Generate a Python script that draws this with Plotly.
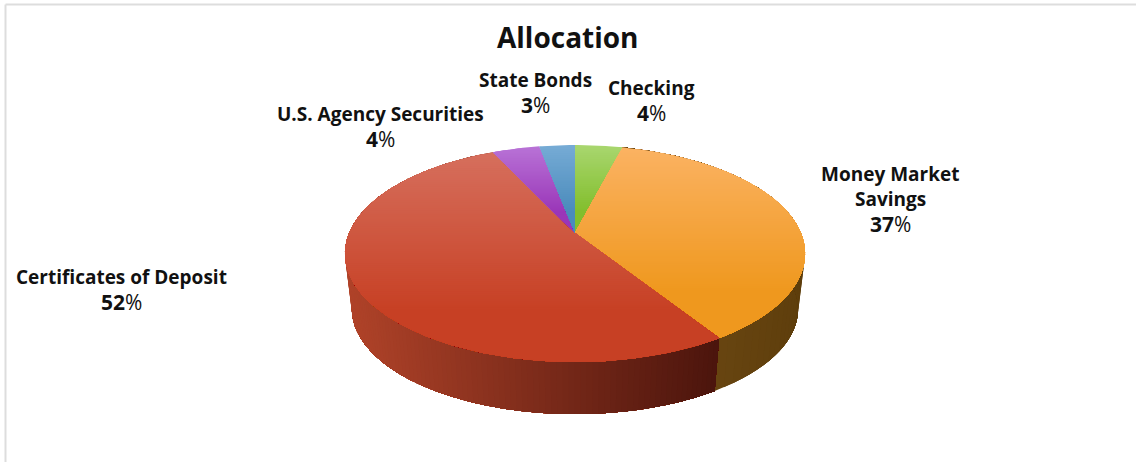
import numpy as np
import plotly.graph_objects as go

# Portfolio allocation, clockwise from twelve o'clock
categories = [["Checking"], ["Money Market", "Savings"], ["Certificates of Deposit"],
              ["U.S. Agency Securities"], ["State Bonds"]]
shares = [4, 37, 52, 4, 3]

# Colour ramps: lit rim of the slice top -> saturated lower part, then wall colours
top_light = ["#A8D66E", "#FBB262", "#D66F5D", "#B872D6", "#76ABD5"]
top_deep = ["#82BE2C", "#EF981E", "#C74024", "#9A36B8", "#4A8BBB"]
wall_left = ["#5A7A1C", "#674410", "#B04329", "#6A2080", "#2C5A7C"]
wall_right = ["#4A6A14", "#5E3E0C", "#4A140C", "#5A1A70", "#24506C"]

# Centre of each label's first line, and the distance between its lines
label_pos = [(651, 88), (890, 174), (121, 277), (380, 114), (535, 80)]
LINE_STEP = 25

# Perspective disc: screen position of the pie apex and its foreshortening
CX, CY = 575.0, 233.0
TILT = 0.189
RX, RY = 225.9, 104.6
LOWER_SCALE = 0.97
LOWER_CY = 289.0


def project(theta, lower=False):
    """Map an angle clockwise from the top of the disc onto the screen."""
    px = np.sin(theta)
    py = np.cos(theta)
    w = 1 + TILT * py
    sx = RX * px / w
    sy = -RY * py / w
    if lower:
        return CX + LOWER_SCALE * sx, LOWER_CY + LOWER_SCALE * sy
    return CX + sx, CY + sy


def rgb(hex_colour):
    return np.array([int(hex_colour[i:i + 2], 16) for i in (1, 3, 5)], float)


def mix(a, b, t):
    c = rgb(a) * (1 - t) + rgb(b) * t
    return "rgb({:.0f},{:.0f},{:.0f})".format(*c)


def clip_below(xs, ys, limit):
    """Keep the part of a polygon lying at or below the screen height `limit`."""
    pts = list(zip(xs, ys))
    out = []
    for i, (xa, ya) in enumerate(pts):
        xb, yb = pts[(i + 1) % len(pts)]
        ina, inb = ya >= limit, yb >= limit
        if ina:
            out.append((xa, ya))
        if ina != inb:
            t = (limit - ya) / (yb - ya)
            out.append((xa + t * (xb - xa), limit))
    return out


def patch(xs, ys, colour):
    return go.Scatter(x=list(xs), y=list(ys), mode="lines", fill="toself",
                      fillcolor=colour, line=dict(width=0),
                      hoverinfo="skip", showlegend=False)


fig = go.Figure()

edges = np.concatenate([[0], np.cumsum(shares)]) / sum(shares) * 2 * np.pi

# Outer wall: overlapping sweeps from the start of the slice to each step,
# shortest last, so the shading runs without seams
for i, stride in ((1, 6), (2, 2)):
    full = np.linspace(edges[i], edges[i + 1], 301)
    x_from, x_to = (722, 805) if i == 1 else (345, 722)
    for k in range(300, 0, -stride):
        arc = full[:k + 1]
        tx, ty = project(arc)
        bx, by = project(arc[::-1], lower=True)
        xs = np.concatenate([tx, bx, tx[:1]])
        ys = np.concatenate([ty, by, ty[:1]])
        t = np.clip((tx[-1] - x_from) / (x_to - x_from), 0, 1)
        fig.add_trace(patch(xs, ys, mix(wall_left[i], wall_right[i], t)))

# Slice tops: each slice carries its own vertical gradient, painted downward
for i in range(len(shares)):
    arc = np.linspace(edges[i], edges[i + 1], int((edges[i + 1] - edges[i]) * 60) + 3)
    ax, ay = project(arc)
    xs = np.concatenate([[CX], ax])
    ys = np.concatenate([[CY], ay])
    y_min, y_max = ys.min(), ys.max()
    steps = max(16, int((y_max - y_min) / 2))
    for y0 in np.linspace(y_min, y_max, steps + 1)[:-1]:
        band = clip_below(xs, ys, y0)
        if len(band) < 3:
            continue
        t = min(1.0, (y0 - y_min) / (0.75 * (y_max - y_min)))
        bx = [p[0] for p in band] + [band[0][0]]
        by = [p[1] for p in band] + [band[0][1]]
        fig.add_trace(patch(bx, by, mix(top_light[i], top_deep[i], t)))

FONT = "'Open Sans', Lato, sans-serif"
INK = "#111111"


def put_text(x, y, text, size):
    fig.add_annotation(x=x, y=y, xref="x", yref="y", xanchor="center", yanchor="middle",
                       showarrow=False, align="center", text=text,
                       font=dict(family=FONT, size=size, color=INK))


# Category name lines with the share underneath
for (lx, ly), lines, value in zip(label_pos, categories, shares):
    for n, line in enumerate(lines):
        put_text(lx, ly + n * LINE_STEP, f"<b>{line}</b>", 19)
    put_text(lx, ly + len(lines) * LINE_STEP, f"<b>{value}</b>%", 21)

put_text(568, 36.5, "<b>Allocation</b>", 28)

# Chart-area frame along the top and left
fig.add_shape(type="line", x0=5.5, y0=4.5, x1=1136, y1=4.5, xref="x", yref="y",
              line=dict(color="#DDDDDD", width=2), layer="below")
fig.add_shape(type="line", x0=5.5, y0=4.5, x1=5.5, y1=462, xref="x", yref="y",
              line=dict(color="#DDDDDD", width=2), layer="below")

fig.update_xaxes(range=[0, 1136], visible=False, fixedrange=True)
fig.update_yaxes(range=[462, 0], visible=False, fixedrange=True)
fig.update_layout(width=1136, height=462, margin=dict(l=0, r=0, t=0, b=0),
                  paper_bgcolor="white", plot_bgcolor="white", showlegend=False)

fig.write_html("out.html", config={"displayModeBar": False})
